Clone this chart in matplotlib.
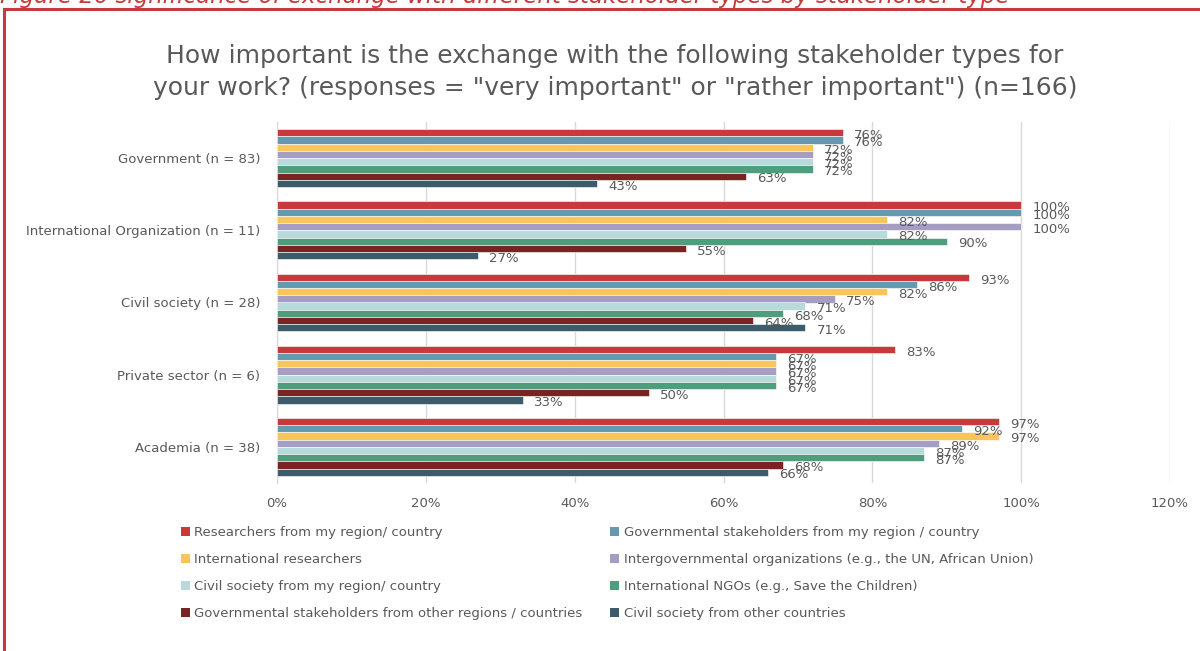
import matplotlib.pyplot as plt
from matplotlib.lines import Line2D
from matplotlib.patches import Patch
from matplotlib.ticker import FuncFormatter

# Data
groups = ['Government (n = 83)', 'International Organization (n = 11)',
          'Civil society (n = 28)', 'Private sector (n = 6)', 'Academia (n = 38)']
series = ['Researchers from my region/ country',
          'Governmental stakeholders from my region / country',
          'International researchers',
          'Intergovernmental organizations (e.g., the UN, African Union)',
          'Civil society from my region/ country',
          'International NGOs (e.g., Save the Children)',
          'Governmental stakeholders from other regions / countries',
          'Civil society from other countries']
researchers_region = [76, 100, 93, 83, 97]
gov_region = [76, 100, 86, 67, 92]
intl_researchers = [72, 82, 82, 67, 97]
intergov_orgs = [72, 100, 75, 67, 89]
civil_region = [72, 82, 71, 67, 87]
intl_ngos = [72, 90, 68, 67, 87]
gov_other = [63, 55, 64, 50, 68]
civil_other = [43, 27, 71, 33, 66]
values = [researchers_region, gov_region, intl_researchers, intergov_orgs,
          civil_region, intl_ngos, gov_other, civil_other]

colors = ['#C8393B', '#6699B0', '#F8C55B', '#A59DC2',
          '#B9D9DB', '#4E9E7E', '#7B2222', '#3C5C6C']
grey = '#595959'
plt.rcParams['font.family'] = 'DejaVu Sans'

fig = plt.figure(figsize=(12, 6.51), dpi=100)
ax = fig.add_axes([277 / 1200, 1 - 483 / 651, (1170 - 277) / 1200, (483 - 122) / 651])

bar_h = 0.1
for i, (name, vals) in enumerate(zip(series, values)):
    ys = [g + (i - 3.5) * bar_h for g in range(len(groups))]
    ax.barh(ys, vals, height=bar_h, color=colors[i], edgecolor='white',
            linewidth=0.4, label=name, zorder=3)
    for y, v in zip(ys, vals):
        ax.annotate(f'{v}%', (v, y), xytext=(8, -2), textcoords='offset points',
                    va='center', ha='left', fontsize=9.5, color=grey, zorder=4)

ax.set_xlim(0, 120)
ax.set_ylim(4.5, -0.5)
ax.set_xticks(range(0, 121, 20))
ax.xaxis.set_major_formatter(FuncFormatter(lambda x, _: f'{x:.0f}%'))
ax.set_yticks(range(len(groups)))
ax.set_yticklabels(groups)
ax.tick_params(axis='both', length=0, colors=grey, labelsize=9.5)
ax.tick_params(axis='x', pad=10)
ax.tick_params(axis='y', pad=12)
ax.grid(axis='x', color='#D9D9D9', linewidth=1, zorder=0)
for side in ['top', 'right', 'bottom']:
    ax.spines[side].set_visible(False)
ax.spines['left'].set_color('#D9D9D9')

fig.text(0.5125, 1 - 72 / 651,
         'How important is the exchange with the following stakeholder types for\n'
         'your work? (responses = "very important" or "rather important") (n=166)',
         ha='center', va='center', fontsize=18, color=grey, linespacing=1.4)

# legend filled row by row: left column takes the even series
order = [0, 2, 4, 6, 1, 3, 5, 7]
handles = [Patch(facecolor=colors[k]) for k in order]
fig.legend(handles, [series[k] for k in order], ncol=2,
           loc='upper left', bbox_to_anchor=(176 / 1200, 1 - 521 / 651),
           frameon=False, fontsize=9.5, labelcolor=grey,
           handlelength=0.65, handleheight=0.65, handletextpad=0.35,
           labelspacing=1.05, columnspacing=2.1, borderaxespad=0)

# red frame and caption
red = '#C8393B'
fig.add_artist(Line2D([4 / 1200, 4 / 1200], [0, 1 - 9 / 651], color=red, linewidth=2.2))
fig.add_artist(Line2D([4 / 1200, 1], [1 - 9 / 651, 1 - 9 / 651], color=red, linewidth=2.2))
fig.text(0.0, 1 - 3 / 651,
         'Figure 26 significance of exchange with different stakeholder types by stakeholder type',
         ha='left', va='baseline', fontsize=16.5, color=red, style='italic')

fig.savefig('out.png', dpi=100)
